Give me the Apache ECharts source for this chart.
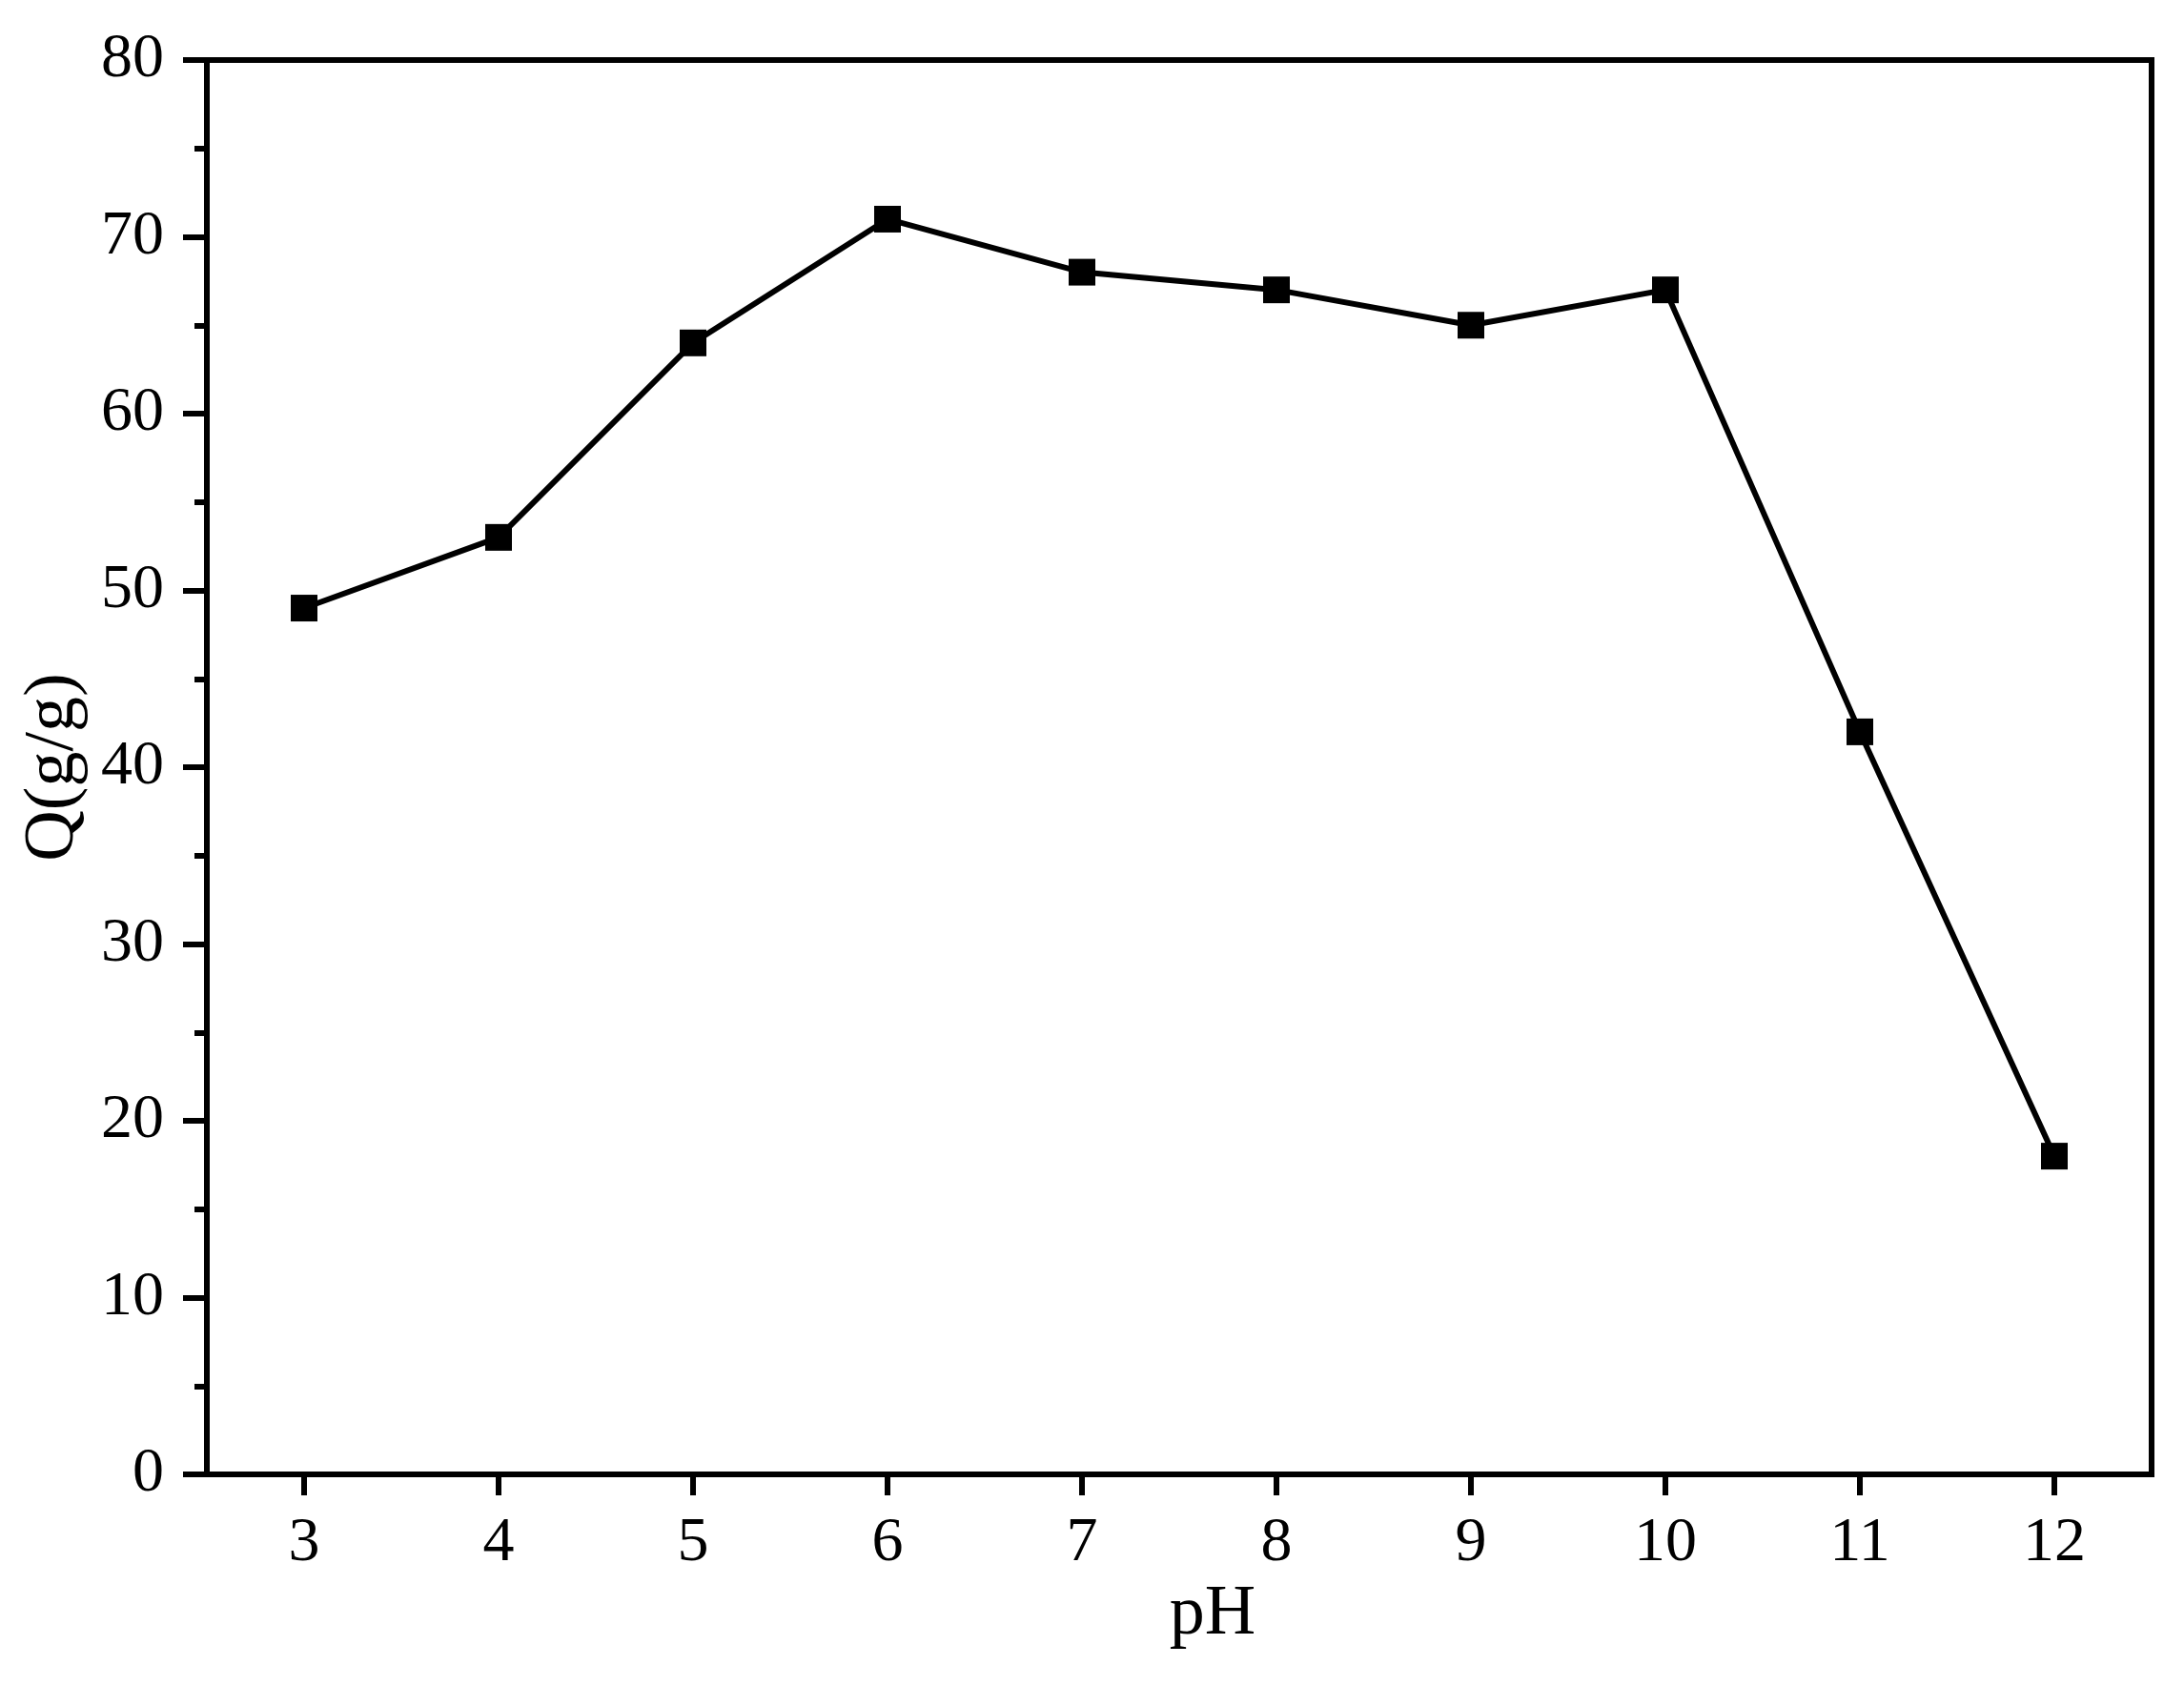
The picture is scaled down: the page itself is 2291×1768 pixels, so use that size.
<!DOCTYPE html>
<html><head><meta charset="utf-8">
<script src="https://cdn.jsdelivr.net/npm/echarts@6/dist/echarts.min.js"></script>
<style>html,body{margin:0;padding:0;background:#fff}#c{width:2291px;height:1768px}</style>
</head><body><div id="c"></div>
<script>
const phValues = [3, 4, 5, 6, 7, 8, 9, 10, 11, 12];
const qValues = [49, 53, 64, 71, 68, 67, 65, 67, 42, 18];
const xTickLabels = ['3','4','5','6','7','8','9','10','11','12'];
const yTickLabels = ['0','10','20','30','40','50','60','70','80'];

const font = "'Liberation Serif', 'Times New Roman', serif";
const chart = echarts.init(document.getElementById('c'));
chart.setOption({
  backgroundColor: '#fff',
  animation: false,
  grid: {left: 217, right: 34, top: 63, bottom: 221, show: true, borderColor: '#000', borderWidth: 6, backgroundColor: 'transparent'},
  xAxis: {
    type: 'value', min: 2.5, max: 12.5, interval: 1,
    name: 'pH', nameLocation: 'middle', nameGap: 104,
    nameTextStyle: {fontFamily: font, fontSize: 74, color: '#000', padding: [0, 0, 0, 70]},
    axisLine: {show: true, onZero: false, lineStyle: {color: '#000', width: 6}},
    axisTick: {show: true, inside: false, length: 22, lineStyle: {color: '#000', width: 6},
      customValues: phValues},
    axisLabel: {fontFamily: font, fontSize: 66, color: '#000', margin: 40,
      customValues: phValues,
      formatter: v => xTickLabels[phValues.indexOf(Math.round(v))] ?? ''},
    splitLine: {show: false}
  },
  yAxis: {
    type: 'value', min: 0, max: 80, interval: 10,
    name: 'Q(g/g)', nameLocation: 'middle', nameGap: 123, nameRotate: 90,
    nameTextStyle: {fontFamily: font, fontSize: 74, color: '#000'},
    axisLine: {show: true, lineStyle: {color: '#000', width: 6}},
    axisTick: {show: true, inside: false, length: 25, lineStyle: {color: '#000', width: 6}},
    minorTick: {show: true, splitNumber: 2, length: 13, lineStyle: {color: '#000', width: 6}},
    axisLabel: {fontFamily: font, fontSize: 66, color: '#000', margin: 45,
      formatter: v => yTickLabels[Math.round(v / 10)] ?? ''},
    splitLine: {show: false}
  },
  series: [{
    type: 'line',
    data: phValues.map((x, i) => [x, qValues[i]]),
    symbol: 'rect', symbolSize: 28,
    lineStyle: {color: '#000', width: 6},
    itemStyle: {color: '#000'},
    z: 3
  }]
});
</script></body></html>
